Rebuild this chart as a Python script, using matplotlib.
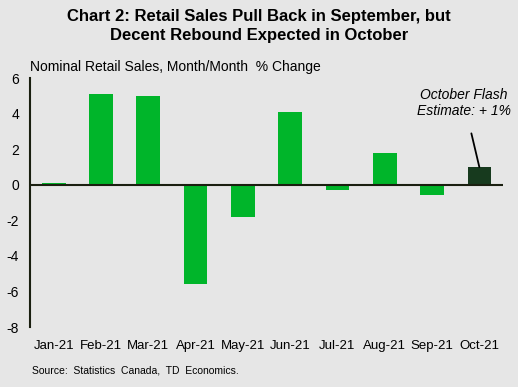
import matplotlib
matplotlib.use('Agg')
import matplotlib.pyplot as plt
import numpy as np

months = ['Jan-21', 'Feb-21', 'Mar-21', 'Apr-21', 'May-21', 'Jun-21',
          'Jul-21', 'Aug-21', 'Sep-21', 'Oct-21']
pct_change = [0.1, 5.1, 5.0, -5.6, -1.8, 4.1, -0.3, 1.8, -0.6, 1.0]
flash_month = 'Oct-21'
yticks = [6, 4, 2, 0, -2, -4, -6, -8]

plt.rcParams['font.family'] = ['Liberation Sans', 'DejaVu Sans']
plt.rcParams['axes.unicode_minus'] = False

bg = '#e6e6e6'
green = '#00b52a'
dark = '#173a1e'

fig = plt.figure(figsize=(5.18, 3.87), dpi=100, facecolor=bg)
ax = fig.add_axes([0.058, 0.155, 0.913, 0.643], facecolor=bg)

x = np.arange(len(months))
colors = [dark if m == flash_month else green for m in months]
ax.bar(x, pct_change, width=0.5, color=colors, zorder=2)

ax.set_xlim(-0.5, len(months) - 0.5)
ax.set_ylim(-8, 6)
ax.set_yticks(yticks)
ax.set_xticks(x)
ax.set_xticklabels(months)
ax.tick_params(axis='both', length=0, colors='black')
ax.tick_params(axis='x', pad=9, labelsize=9.5)
ax.tick_params(axis='y', pad=8, labelsize=10)

for s in ['top', 'right', 'bottom']:
    ax.spines[s].set_visible(False)
ax.spines['left'].set_color('#1a1f10')
ax.spines['left'].set_linewidth(1.5)
ax.axhline(0, color='#1a1f10', linewidth=1.5, zorder=3)

# flash estimate callout
i = months.index(flash_month)
ax.annotate('October Flash\nEstimate: + 1%', xy=(i, pct_change[i]),
            xytext=(8.68, 4.6), ha='center', va='center',
            fontsize=10, style='italic', linespacing=1.25,
            arrowprops=dict(arrowstyle='-', color='black', lw=1.3,
                            shrinkA=9, shrinkB=0))

fig.text(0.5, 0.978, 'Chart 2: Retail Sales Pull Back in September, but\nDecent Rebound Expected in October',
         ha='center', va='top', fontsize=12, fontweight='bold', linespacing=1.35)
fig.text(0.058, 0.827, 'Nominal Retail Sales, Month/Month  % Change',
         ha='left', va='center', fontsize=10)
fig.text(0.062, 0.043, 'Source:  Statistics  Canada,  TD  Economics.',
         ha='left', va='center', fontsize=7.5)

plt.savefig('out.png', dpi=100, facecolor=bg)
